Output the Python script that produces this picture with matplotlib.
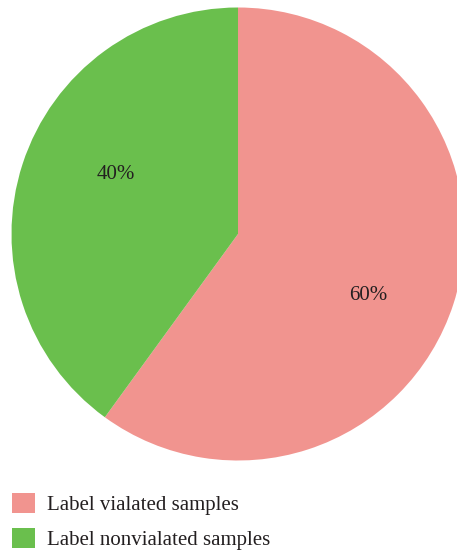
import numpy as np
import matplotlib
matplotlib.use("Agg")
import matplotlib.pyplot as plt

labels = ["Label vialated samples", "Label nonvialated samples"]
shares = [60, 40]
colors = ["#F1948F", "#6ABF4D"]
# label placement around the centre (angle in degrees, radius as fraction)
label_angles = [-25.5, 154]
label_radii = [0.635, 0.60]

W, H, DPI = 457, 556, 100
fig = plt.figure(figsize=(W / DPI, H / DPI), dpi=DPI)

cx, cy, r = 238.0, 234.0, 226.5
ax = fig.add_axes([(cx - r) / W, (H - cy - r) / H, 2 * r / W, 2 * r / H])

wedges, _ = ax.pie(shares, colors=colors, startangle=90, counterclock=False,
                   radius=1.0, wedgeprops=dict(linewidth=0))
ax.set_xlim(-1, 1)
ax.set_ylim(-1, 1)
ax.set_aspect("auto")
ax.axis("off")

font = "Liberation Serif"
for v, a, rr in zip(shares, label_angles, label_radii):
    t = np.deg2rad(a)
    ax.text(rr * np.cos(t), rr * np.sin(t), f"{v}%", ha="center", va="center",
            fontsize=15, family=font, color="#231F20")

fig.legend(wedges, labels, loc="upper left", bbox_to_anchor=(4 / W, 1 - 485 / H),
           frameon=False, prop=dict(family=font, size=15),
           handlelength=1.1, handleheight=1.1, handletextpad=0.57,
           labelspacing=0.62, labelcolor="#231F20", borderaxespad=0)

fig.savefig("out.png", dpi=DPI)
